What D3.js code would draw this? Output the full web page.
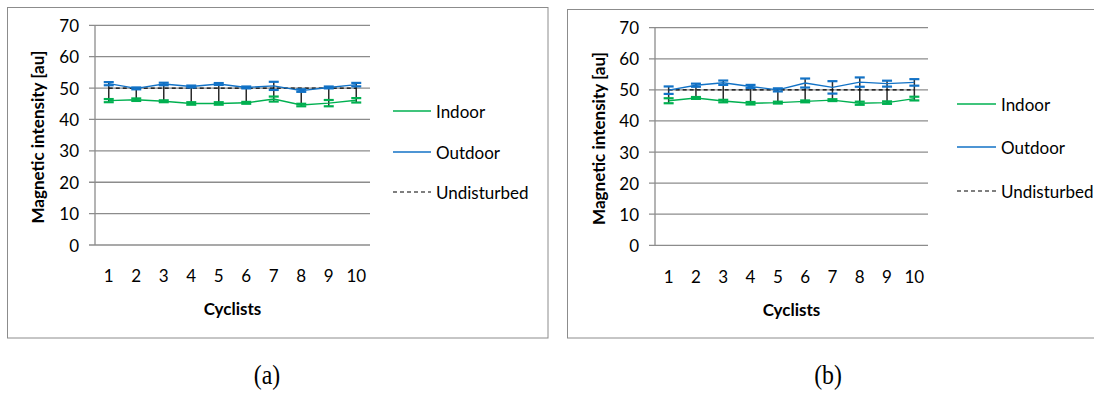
<!DOCTYPE html>
<html>
<head>
<meta charset="utf-8">
<script src="https://cdn.jsdelivr.net/npm/d3@7"></script>
<style>
  html, body { margin: 0; padding: 0; background: #fff; }
  svg { display: block; }
  text { font-family: Lato, "Open Sans", sans-serif; fill: #000; }
</style>
</head>
<body>
<svg id="chart" width="1094" height="416"></svg>
<script>
// Cyclist index labels on the category axis
const cyclists = ["1", "2", "3", "4", "5", "6", "7", "8", "9", "10"];
const yTicks = [0, 10, 20, 30, 40, 50, 60, 70];
const seriesNames = ["Indoor", "Outdoor", "Undisturbed"];

// (a) mean magnetic intensity and error half-widths
const indoorA     = [46.0, 46.3, 45.8, 45.1, 45.1, 45.3, 46.5, 44.6, 45.2, 46.1];
const indoorAErr  = [0.5, 0.4, 0.3, 0.4, 0.4, 0.3, 0.8, 0.4, 1.0, 0.7];
const outdoorA    = [51.4, 49.9, 51.3, 50.5, 51.3, 50.2, 50.7, 49.2, 50.2, 51.1];
const outdoorAErr = [0.5, 0.3, 0.4, 0.3, 0.3, 0.3, 1.3, 0.4, 0.3, 0.55];

// (b) mean magnetic intensity and error half-widths
const indoorB     = [46.5, 47.4, 46.4, 45.7, 45.9, 46.3, 46.7, 45.7, 45.9, 47.2];
const indoorBErr  = [0.8, 0.3, 0.4, 0.4, 0.3, 0.3, 0.3, 0.5, 0.4, 0.6];
const outdoorB    = [49.9, 51.5, 52.3, 51.1, 50.0, 52.2, 50.8, 52.5, 52.0, 52.4];
const outdoorBErr = [1.2, 0.5, 0.7, 0.5, 0.5, 1.45, 2.0, 1.5, 0.95, 1.05];

// Reference (undisturbed) level
const undisturbed = [50, 50, 50, 50, 50, 50, 50, 50, 50, 50];

const GREEN = "#00b050";
const BLUE = "#1272c6";
const GRID = "#8c8c8c";
const FONT = 17;

const svg = d3.select("#chart");

function drawPanel(cfg) {
  const g = svg.append("g");

  // outer chart frame
  g.append("rect")
    .attr("x", cfg.frame[0]).attr("y", cfg.frame[1])
    .attr("width", cfg.frame[2] - cfg.frame[0]).attr("height", cfg.frame[3] - cfg.frame[1])
    .attr("fill", "none").attr("stroke", GRID).attr("stroke-width", 1);

  const x = d3.scaleBand().domain(cyclists).range([cfg.x0, cfg.x1]).padding(0);
  const y = d3.scaleLinear().domain([0, 70]).range([cfg.yBottom, cfg.yTop]);
  const cx = c => x(c) + x.bandwidth() / 2;

  // horizontal gridlines with short outward ticks
  g.append("g").selectAll("line").data(yTicks).join("line")
    .attr("x1", cfg.x0 - 6).attr("x2", cfg.x1)
    .attr("y1", d => y(d)).attr("y2", d => y(d))
    .attr("stroke", GRID).attr("stroke-width", 1.3);

  // vertical value axis
  g.append("line")
    .attr("x1", cfg.x0).attr("x2", cfg.x0)
    .attr("y1", y(0)).attr("y2", y(70))
    .attr("stroke", GRID).attr("stroke-width", 1.3);

  // value tick labels
  g.append("g").selectAll("text").data(yTicks).join("text")
    .attr("x", cfg.x0 - 16).attr("y", d => y(d))
    .attr("text-anchor", "end").attr("dominant-baseline", "central")
    .attr("font-size", FONT)
    .text(d => d);

  // category tick labels
  g.append("g").selectAll("text").data(cyclists).join("text")
    .attr("x", d => cx(d)).attr("y", y(0) + cfg.catLabelDy)
    .attr("text-anchor", "middle").attr("dominant-baseline", "central")
    .attr("font-size", FONT)
    .text(d => d);

  // axis titles
  g.append("text")
    .attr("x", (cfg.x0 + cfg.x1) / 2).attr("y", y(0) + cfg.xTitleDy)
    .attr("text-anchor", "middle").attr("dominant-baseline", "central")
    .attr("font-size", FONT).attr("font-weight", "bold")
    .text("Cyclists");

  const ty = (y(0) + y(70)) / 2 + 2;
  g.append("text")
    .attr("transform", `translate(${cfg.x0 - cfg.yTitleDx},${ty}) rotate(-90)`)
    .attr("text-anchor", "middle").attr("dominant-baseline", "central")
    .attr("font-size", FONT).attr("font-weight", "bold")
    .text("Magnetic intensity [au]");

  const idx = d3.range(cyclists.length);

  // high-low lines joining the two series at each cyclist
  g.append("g").selectAll("line").data(idx).join("line")
    .attr("x1", i => cx(cyclists[i])).attr("x2", i => cx(cyclists[i]))
    .attr("y1", i => y(Math.max(cfg.outdoor[i] + cfg.outdoorErr[i], cfg.indoor[i] + cfg.indoorErr[i])))
    .attr("y2", i => y(Math.min(cfg.outdoor[i] - cfg.outdoorErr[i], cfg.indoor[i] - cfg.indoorErr[i])))
    .attr("stroke", "#2b2b2b").attr("stroke-width", 1.5);

  // undisturbed reference line
  const line = d3.line().x((d, i) => cx(cyclists[i])).y(d => y(d));
  g.append("path").datum(undisturbed)
    .attr("d", line).attr("fill", "none")
    .attr("stroke", "#000").attr("stroke-width", 1.2)
    .attr("stroke-dasharray", "4,3");

  // series lines and their error-bar caps
  const series = [
    { vals: cfg.indoor, err: cfg.indoorErr, color: GREEN },
    { vals: cfg.outdoor, err: cfg.outdoorErr, color: BLUE }
  ];
  series.forEach(s => {
    g.append("path").datum(s.vals)
      .attr("d", line).attr("fill", "none")
      .attr("stroke", s.color).attr("stroke-width", 1.4);
    const caps = [];
    s.vals.forEach((v, i) => {
      caps.push({ i, v: v + s.err[i] });
      caps.push({ i, v: v - s.err[i] });
    });
    g.append("g").selectAll("line").data(caps).join("line")
      .attr("x1", d => cx(cyclists[d.i]) - 5).attr("x2", d => cx(cyclists[d.i]) + 5)
      .attr("y1", d => y(d.v)).attr("y2", d => y(d.v))
      .attr("stroke", s.color).attr("stroke-width", 2.2);
  });

  // legend
  const lg = g.append("g");
  const styles = [
    { color: GREEN, dash: null, w: 1.5 },
    { color: BLUE, dash: null, w: 1.5 },
    { color: "#000", dash: "4,3", w: 1.2 }
  ];
  seriesNames.forEach((name, k) => {
    const ly = cfg.legendY[k];
    lg.append("line")
      .attr("x1", cfg.legendX).attr("x2", cfg.legendX + cfg.legendLen)
      .attr("y1", ly).attr("y2", ly)
      .attr("stroke", styles[k].color).attr("stroke-width", styles[k].w)
      .attr("stroke-dasharray", styles[k].dash);
    lg.append("text")
      .attr("x", cfg.legendX + cfg.legendLen + 5).attr("y", ly)
      .attr("dominant-baseline", "central").attr("font-size", FONT)
      .text(name);
  });

  // panel caption
  svg.append("text")
    .attr("transform", `translate(${cfg.captionX},${cfg.captionY}) scale(0.85,1)`)
    .attr("text-anchor", "middle").attr("dominant-baseline", "central")
    .style("font-family", "'Liberation Serif', 'DejaVu Serif', serif")
    .attr("font-size", 28)
    .text(cfg.caption);
}

drawPanel({
  frame: [7.5, 7.5, 548, 338],
  x0: 95, x1: 370, yTop: 25.3, yBottom: 245,
  catLabelDy: 30, xTitleDy: 63, yTitleDx: 57.5,
  indoor: indoorA, indoorErr: indoorAErr,
  outdoor: outdoorA, outdoorErr: outdoorAErr,
  legendX: 393, legendLen: 38, legendY: [111, 152, 192],
  caption: "(a)", captionX: 267, captionY: 375
});

drawPanel({
  frame: [567.5, 9.5, 1100, 338],
  x0: 655, x1: 928, yTop: 27.7, yBottom: 245.3,
  catLabelDy: 31, xTitleDy: 64, yTitleDx: 57,
  indoor: indoorB, indoorErr: indoorBErr,
  outdoor: outdoorB, outdoorErr: outdoorBErr,
  legendX: 957, legendLen: 39, legendY: [104, 147, 191],
  caption: "(b)", captionX: 828, captionY: 375
});
</script>
</body>
</html>
